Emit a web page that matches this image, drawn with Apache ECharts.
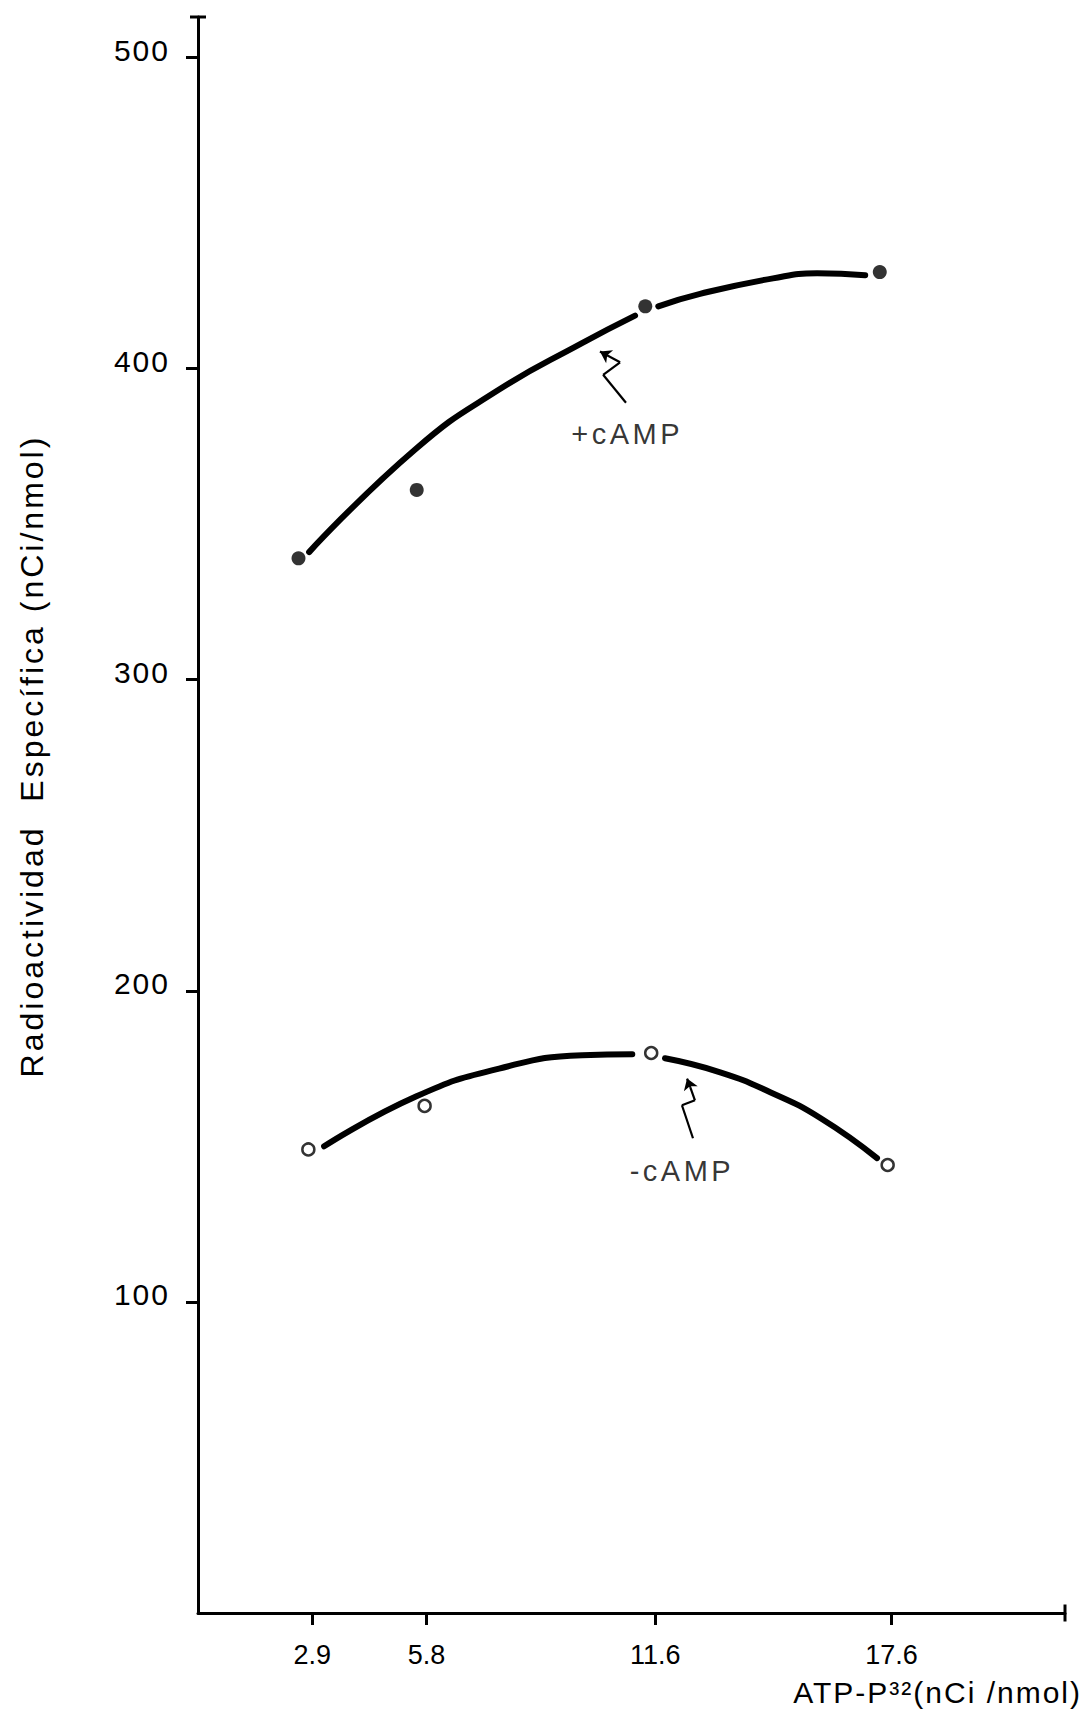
<!DOCTYPE html>
<html>
<head>
<meta charset="utf-8">
<title>Radioactividad especifica vs ATP-P32</title>
<script src="https://cdn.jsdelivr.net/npm/echarts@6/dist/echarts.min.js"></script>
<style>
  html, body { margin: 0; padding: 0; background: #fff; }
  #chart { width: 1087px; height: 1715px; }
  /* stencil lettering look: spaced letters */
  #chart text { letter-spacing: 2px; }
  #chart text[style*="Helvetica"] { letter-spacing: 0; }
  #chart text[style*="Arial"] { letter-spacing: 3px; }
  #chart text[style*="Verdana"] { letter-spacing: 3.5px; }
</style>
</head>
<body>
<div id="chart"></div>
<script>
// axis ticks
const xTicks = [2.9, 5.8, 11.6, 17.6];
const yTicks = [100, 200, 300, 400, 500];

// points as drawn (+cAMP filled, -cAMP open)
const plusX = [2.55, 5.55, 11.35, 17.3];
const plusY = [339, 361, 420, 431];
const minusX = [2.8, 5.75, 11.5, 17.5];
const minusY = [149, 163, 180, 144];

// hand drawn curves, pen lifted at the third point
const plusCurveAX = [2.82, 5.51, 7.61, 9.72, 11.09];
const plusCurveAY = [341, 374, 393, 408, 417];
const plusCurveBX = [11.68, 12.74, 14.59, 15.71, 16.93];
const plusCurveBY = [420, 424, 429, 430.6, 430];
const minusCurveAX = [3.2, 5.53, 7.64, 9.75, 11.02];
const minusCurveAY = [150, 166, 175, 179.3, 179.6];
const minusCurveBX = [11.85, 13.25, 14.52, 15.79, 17.23];
const minusCurveBY = [178.3, 173.8, 167.4, 159.1, 146.2];

// squiggly pointers to the curves
const plusArrowX = [10.86, 10.28, 10.71, 10.2];
const plusArrowY = [389, 398, 402, 405.5];
const minusArrowX = [12.56, 12.28, 12.61, 12.49, 12.41];
const minusArrowY = [152.6, 163.2, 164.8, 169, 171.8];

// curve labels
const noteNames = ['+cAMP', '-cAMP'];
const noteX = [10.89, 12.28];
const noteY = [379, 142];

const zip = (xs, ys) => xs.map((x, i) => [x, ys[i]]);

// polyline -> segments, arrow head on the last one
const arrowSegments = (xs, ys) => {
  const segs = [];
  for (let i = 0; i < xs.length - 1; i++) {
    const seg = { coords: [[xs[i], ys[i]], [xs[i + 1], ys[i + 1]]] };
    if (i === xs.length - 2) {
      seg.symbol = ['none', 'arrow'];
      seg.symbolSize = [0, 11];
    }
    segs.push(seg);
  }
  return segs;
};

const ink = '#000';

const curve = (xs, ys) => ({
  type: 'line',
  data: zip(xs, ys),
  smooth: 0.5,
  showSymbol: false,
  symbol: 'none',
  silent: true,
  lineStyle: { color: ink, width: 6, cap: 'round' },
  z: 3,
});

const chart = echarts.init(document.getElementById('chart'), null, { renderer: 'svg' });

chart.setOption({
  animation: false,
  backgroundColor: '#fff',
  grid: { left: 198, right: 22, top: 17, bottom: 102, outerBoundsMode: 'none' },
  xAxis: {
    type: 'value',
    min: 0,
    max: 22,
    splitLine: { show: false },
    axisLine: {
      show: true,
      lineStyle: { color: ink, width: 3 },
      symbol: ['none', 'rect'],
      symbolSize: [17, 3],
    },
    axisTick: { show: true, customValues: xTicks, length: 12, lineStyle: { color: ink, width: 3 } },
    axisLabel: {
      customValues: xTicks,
      margin: 28,
      color: ink,
      fontSize: 27,
      fontFamily: "'Liberation Sans', Helvetica",
    },
    name: 'ATP-P³²(nCi /nmol)',
    nameLocation: 'end',
    nameGap: 17,
    nameTextStyle: {
      color: ink,
      fontSize: 30,
      fontFamily: 'Liberation Sans',
      align: 'right',
      verticalAlign: 'top',
      padding: [64, 0, 0, 0],
    },
  },
  yAxis: {
    type: 'value',
    min: 0,
    max: 513,
    splitLine: { show: false },
    axisLine: {
      show: true,
      lineStyle: { color: ink, width: 3 },
      symbol: ['none', 'rect'],
      symbolSize: [16, 3],
    },
    axisTick: { show: true, customValues: yTicks, length: 12, lineStyle: { color: ink, width: 3 } },
    axisLabel: {
      customValues: yTicks,
      margin: 28,
      color: ink,
      fontSize: 30,
      fontFamily: 'Liberation Sans',
      verticalAlign: 'bottom',
      lineHeight: 14,
    },
    name: 'Radioactividad  Específica (nCi/nmol)',
    nameLocation: 'middle',
    nameGap: 150,
    nameTextStyle: {
      color: ink,
      fontSize: 32,
      fontFamily: "'Liberation Sans', Arial",
      padding: [0, 0, 0, 118],
    },
  },
  series: [
    curve(plusCurveAX, plusCurveAY),
    curve(plusCurveBX, plusCurveBY),
    curve(minusCurveAX, minusCurveAY),
    curve(minusCurveBX, minusCurveBY),
    {
      name: '+cAMP',
      type: 'scatter',
      data: zip(plusX, plusY),
      symbol: 'circle',
      symbolSize: 14,
      silent: true,
      itemStyle: { color: ink },
      z: 5,
    },
    {
      name: '-cAMP',
      type: 'scatter',
      data: zip(minusX, minusY),
      symbol: 'circle',
      symbolSize: 12,
      silent: true,
      itemStyle: { color: '#fff', borderColor: ink, borderWidth: 2.5 },
      z: 5,
    },
    {
      type: 'lines',
      coordinateSystem: 'cartesian2d',
      silent: true,
      symbol: 'none',
      lineStyle: { color: ink, width: 2.2, curveness: 0, opacity: 1 },
      data: arrowSegments(plusArrowX, plusArrowY).concat(arrowSegments(minusArrowX, minusArrowY)),
      z: 4,
    },
    {
      type: 'scatter',
      silent: true,
      symbolSize: 0,
      data: noteNames.map((n, i) => ({ name: n, value: [noteX[i], noteY[i]] })),
      label: {
        show: true,
        position: 'inside',
        formatter: '{b}',
        color: ink,
        fontSize: 29,
        fontFamily: "'Liberation Sans', Verdana",
      },
    },
  ],
});
</script>
</body>
</html>
